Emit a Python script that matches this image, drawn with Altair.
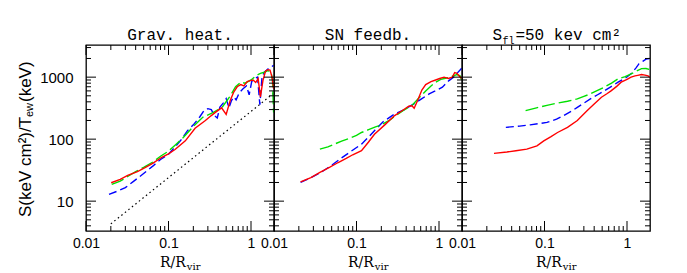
import altair as alt
import pandas as pd

W, H = 188, 186
X_DOMAIN = [0.01, 1.9]
Y_DOMAIN = [3.3, 3300]

# ---- text ----
panel_titles = ["Grav. heat.", "SN feedb."]
panel3_title = ["S", "fl", "=50 kev cm\u00b2"]
y_title = ["S(keV cm\u00b2)/T", "ew", "(keV)"]
x_title = ["R/R", "vir"]

# ---- ticks ----
x_major_ticks = [0.01, 0.1, 1]
x_minor_ticks = [0.02, 0.03, 0.04, 0.05, 0.06, 0.07, 0.08, 0.09,
                 0.2, 0.3, 0.4, 0.5, 0.6, 0.7, 0.8, 0.9]
y_major_ticks = [10, 100, 1000]
y_minor_ticks = [4, 5, 6, 7, 8, 9, 20, 30, 40, 50, 60, 70, 80, 90,
                 200, 300, 400, 500, 600, 700, 800, 900, 2000, 3000]

# ---- panel 1: gravitational heating ----
grav_red_x = [0.0202, 0.026, 0.032, 0.042, 0.052, 0.065, 0.083, 0.1, 0.12, 0.16, 0.21, 0.28, 0.33,
              0.37, 0.44, 0.5, 0.56, 0.62, 0.68, 0.75, 0.82, 0.9, 0.98, 1.06, 1.14, 1.22, 1.3, 1.4,
              1.5, 1.6, 1.7, 1.8, 1.88]
grav_red_y = [19.8, 22.5, 26, 30, 34.7, 41, 51, 58, 68, 94, 150, 200, 240,
              270, 320, 250, 420, 580, 700, 760, 720, 850, 880, 900, 820, 950, 480, 900,
              1250, 1320, 1300, 1000, 650]
grav_green_x = [0.0205, 0.026, 0.032, 0.04, 0.05, 0.065, 0.08, 0.1, 0.12, 0.15, 0.2, 0.26, 0.35,
                0.45, 0.55, 0.65, 0.75, 0.85, 1.0, 1.15, 1.3, 1.45, 1.6, 1.75, 1.82, 1.88]
grav_green_y = [18.6, 21, 25, 30, 35, 43, 53, 64, 80, 105, 160, 225, 270,
                330, 480, 700, 830, 800, 900, 1050, 1150, 1200, 1280, 1200, 900, 270]
grav_blue_x = [0.019, 0.025, 0.03, 0.038, 0.045, 0.055, 0.065, 0.08, 0.1, 0.12, 0.14, 0.17, 0.2,
               0.24, 0.27, 0.3, 0.33, 0.36, 0.39, 0.42, 0.46, 0.5, 0.54, 0.58, 0.62, 0.66, 0.72,
               0.8, 0.88, 0.95, 1.02, 1.1, 1.2, 1.28, 1.36, 1.45, 1.6, 1.75, 1.88]
grav_blue_y = [12.9, 14.8, 16.5, 21, 25, 31, 37, 47, 57, 75, 95, 137, 170,
               230, 290, 310, 300, 240, 220, 330, 380, 450, 320, 420, 480, 430, 560,
               650, 720, 520, 850, 950, 1000, 360, 1000, 1200, 1350, 1450, 1550]
grav_dot_x = [0.02, 1.85]
grav_dot_y = [4.3, 540]

# ---- panel 2: SN feedback ----
sn_red_x = [0.021, 0.028, 0.036, 0.047, 0.06, 0.075, 0.09, 0.115, 0.14, 0.165, 0.22, 0.29, 0.36,
            0.43, 0.47, 0.5, 0.55, 0.62, 0.69, 0.8, 0.91, 1.02, 1.15, 1.3, 1.45, 1.55, 1.65, 1.75, 1.88]
sn_red_y = [20.4, 24, 29, 35, 42, 49, 56, 65, 90, 120, 170, 240, 290,
            340, 345, 315, 420, 620, 760, 850, 900, 950, 1000, 950, 1000, 1180, 1150, 1050, 950]
sn_green_x = [0.036, 0.045, 0.055, 0.066, 0.08, 0.1, 0.115, 0.14, 0.17, 0.2, 0.25, 0.3, 0.37,
              0.47, 0.57, 0.69, 0.8, 0.91, 1.05, 1.2, 1.35, 1.5, 1.65, 1.8, 1.88]
sn_green_y = [69, 75, 84, 93, 102, 115, 128, 142, 158, 170, 200, 240, 290,
              350, 460, 600, 720, 830, 920, 960, 1000, 1050, 1100, 1050, 900]
sn_blue_x = [0.021, 0.028, 0.037, 0.05, 0.066, 0.085, 0.115, 0.14, 0.165, 0.21, 0.29, 0.38, 0.51,
             0.62, 0.76, 0.9, 1.1, 1.32, 1.5, 1.65, 1.8, 1.88]
sn_blue_y = [20, 24, 29, 38, 50, 63, 83, 108, 137, 190, 255, 300, 380,
             450, 537, 600, 690, 880, 1000, 1150, 1300, 1400]

# ---- panel 3: S_fl = 50 keV cm^2 ----
fl_red_x = [0.0244, 0.035, 0.045, 0.061, 0.081, 0.098, 0.12, 0.144, 0.19, 0.25, 0.33, 0.4, 0.49,
            0.57, 0.64, 0.75, 0.85, 1.0, 1.12, 1.25, 1.35, 1.5, 1.65, 1.8, 1.88]
fl_red_y = [59, 62, 65, 69, 78, 94, 110, 128, 155, 200, 290, 370, 475,
            540, 600, 710, 830, 920, 1000, 1050, 1070, 1100, 1080, 1050, 1000]
fl_green_x = [0.059, 0.08, 0.107, 0.14, 0.19, 0.25, 0.3, 0.36, 0.44, 0.53, 0.65, 0.78, 0.95,
              1.12, 1.3, 1.5, 1.7, 1.88]
fl_green_y = [288, 320, 350, 380, 408, 445, 490, 537, 610, 690, 800, 940, 1020,
              1130, 1250, 1370, 1380, 1330]
fl_blue_x = [0.034, 0.05, 0.067, 0.085, 0.107, 0.14, 0.17, 0.21, 0.25, 0.3, 0.36, 0.44, 0.53,
             0.65, 0.78, 0.95, 1.12, 1.28, 1.4, 1.55, 1.7, 1.88]
fl_blue_y = [155, 162, 170, 178, 186, 210, 240, 280, 325, 380, 445, 520, 600,
             710, 830, 960, 1130, 1400, 1650, 1800, 1950, 2000]

RED, GREEN, BLUE, BLACK = "#ff0000", "#00e000", "#0000ff", "#000000"

xs = alt.Scale(type="log", domain=X_DOMAIN)
ys = alt.Scale(type="log", domain=Y_DOMAIN)

x_axis = alt.Axis(values=x_major_ticks, ticks=False, tickSize=0, domain=False, grid=False,
                  labelFlush=False, labelOverlap=False, labelPadding=5, labelFontSize=14,
                  labelFont="Liberation Sans", labelColor="black",
                  labelExpr="datum.value >= 1 ? format(datum.value, 'd') : format(datum.value, '.2~f')",
                  title=None)
y_axis = alt.Axis(values=y_major_ticks, ticks=False, tickSize=0, domain=False, grid=False,
                  labelFlush=False, labelOverlap=False, labelPadding=13, labelFontSize=15,
                  labelFont="Liberation Sans", labelColor="black",
                  labelExpr="format(datum.value, 'd')", title=None)


def tick_layers(show_y):
    ya = y_axis if show_y else None
    out = []
    for vals, ln in [(x_major_ticks, 10), (x_minor_ticks, 5)]:
        base = alt.Chart(pd.DataFrame({"v": vals})).mark_rule(color="black", strokeWidth=1)
        xe = alt.X("v:Q", scale=xs, axis=x_axis)
        out.append(base.encode(x=xe, y=alt.value(H), y2=alt.value(H - ln)))
        out.append(base.encode(x=xe, y=alt.value(0), y2=alt.value(ln)))
    for vals, ln in [(y_major_ticks, 10), (y_minor_ticks, 5)]:
        base = alt.Chart(pd.DataFrame({"v": vals})).mark_rule(color="black", strokeWidth=1)
        ye = alt.Y("v:Q", scale=ys, axis=ya)
        out.append(base.encode(y=ye, x=alt.value(0), x2=alt.value(ln)))
        out.append(base.encode(y=ye, x=alt.value(W), x2=alt.value(W - ln)))
    return out


def line(xv, yv, color, dash, show_y, width=1.4):
    kw = dict(color=color, strokeWidth=width, clip=True)
    if dash:
        kw["strokeDash"] = dash
    return alt.Chart(pd.DataFrame({"v": xv, "w": yv})).mark_line(**kw).encode(
        x=alt.X("v:Q", scale=xs, axis=x_axis),
        y=alt.Y("w:Q", scale=ys, axis=y_axis if show_y else None),
    )


def text(txt, x, y, size, font, align="center", baseline="alphabetic", angle=0, weight="normal"):
    return alt.Chart(pd.DataFrame({"t": [txt]})).mark_text(
        font=font, fontSize=size, align=align, baseline=baseline, angle=angle,
        fontWeight=weight, color="black",
    ).encode(text="t:N", x=alt.value(x), y=alt.value(y))


def xtitle():
    start = W / 2 - 20
    return [text(x_title[0], start, 222, 14, "DejaVu Serif", align="left"),
            text(x_title[1], start + 26.8, 225, 10, "DejaVu Serif", align="left")]


MONO = "Liberation Mono"
TY = -5

p1_layers = [
    line(grav_dot_x, grav_dot_y, BLACK, [1.5, 3], True, 1.2),
    line(grav_blue_x, grav_blue_y, BLUE, [8, 4], True),
    line(grav_green_x, grav_green_y, GREEN, [13, 4], True),
    line(grav_red_x, grav_red_y, RED, None, True),
] + tick_layers(True) + [
    text(panel_titles[0], W / 2, TY, 16, MONO),
    text(y_title[0], -60, 172, 17, "Liberation Sans", align="left", baseline="middle", angle=270),
    text(y_title[1], -56, 72, 11, "Liberation Sans", align="left", baseline="middle", angle=270),
    text(y_title[2], -60, 57, 17, "Liberation Sans", align="left", baseline="middle", angle=270),
] + xtitle()

p2_layers = [
    line(sn_blue_x, sn_blue_y, BLUE, [8, 4], False),
    line(sn_green_x, sn_green_y, GREEN, [13, 4], False),
    line(sn_red_x, sn_red_y, RED, None, False),
] + tick_layers(False) + [
    text(panel_titles[1], W / 2, TY, 16, MONO),
] + xtitle()

s3 = W / 2 - 63.6
p3_layers = [
    line(fl_blue_x, fl_blue_y, BLUE, [8, 4], False),
    line(fl_green_x, fl_green_y, GREEN, [13, 4], False),
    line(fl_red_x, fl_red_y, RED, None, False),
] + tick_layers(False) + [
    text(panel3_title[0], s3, TY, 16, MONO, align="left"),
    text(panel3_title[1], s3 + 10.1, TY + 4, 10, MONO, align="left"),
    text(panel3_title[2], s3 + 23, TY, 16, MONO, align="left"),
] + xtitle()

p1 = alt.layer(*p1_layers).properties(width=W, height=H)
p2 = alt.layer(*p2_layers).properties(width=W, height=H)
p3 = alt.layer(*p3_layers).properties(width=W, height=H)

chart = alt.hconcat(p1, p2, p3, spacing=0, bounds="flush").properties(
    padding={"left": 8, "top": 18, "right": 5, "bottom": 0},
    background="white",
).configure_view(stroke="black", strokeWidth=1.3)

chart.save("out.html", embed_options={"renderer": "svg", "actions": False})
